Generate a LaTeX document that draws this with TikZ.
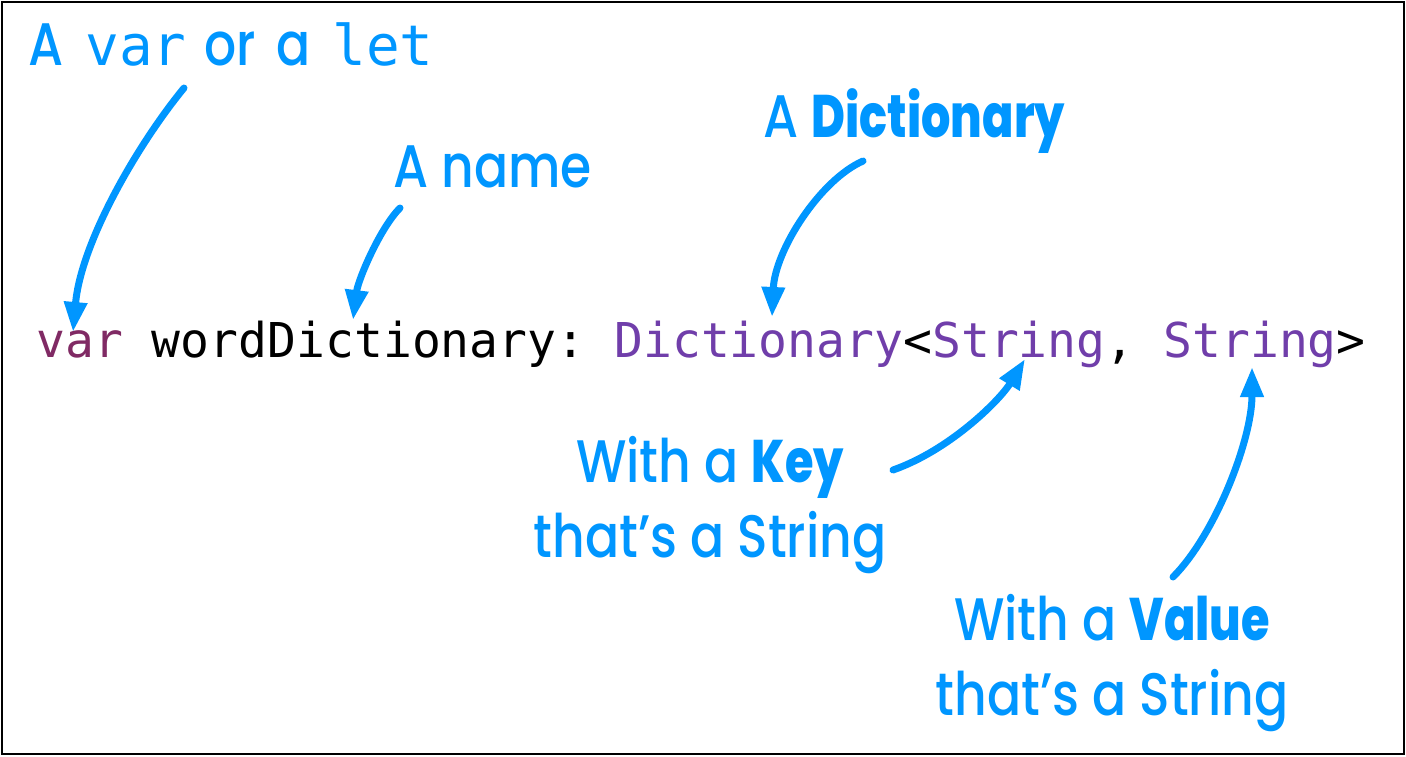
\documentclass[tikz,border=0pt]{standalone}
\usepackage{fontspec}
\usetikzlibrary{arrows.meta}
\setmonofont{DejaVu Sans Mono}
\IfFontExistsTF{Poppins Medium}
  {\newfontfamily\notefont[FakeStretch=0.84]{Poppins Medium}}
  {\newfontfamily\notefont[FakeStretch=0.84,FakeBold=1.2]{Poppins}}
\IfFontExistsTF{Poppins ExtraBold}
  {\newfontfamily\heavyfont[FakeStretch=0.77]{Poppins ExtraBold}}
  {\newfontfamily\heavyfont[FakeStretch=0.77,FakeBold=1.5]{Poppins Bold}}
\definecolor{noteblue}{RGB}{0,150,255}
\definecolor{kwcolor}{RGB}{128,42,100}
\definecolor{typecolor}{RGB}{112,62,170}
\newcommand{\heavy}[1]{{\heavyfont #1}}
\newcommand{\kw}[1]{{\ttfamily\fontsize{28}{34}\selectfont #1}}

\begin{document}
\begin{tikzpicture}[x=0.5pt,y=-0.5pt,
    note/.style={text=noteblue,inner sep=0pt,font=\notefont\fontsize{30}{37.5}\selectfont},
    pointer/.style={draw=noteblue,line width=3.5pt,line cap=round,-{Triangle[length=15pt,width=11pt]}}]
      \useasboundingbox (0,0) rectangle (1406,756);
      \draw[line width=0.8pt] (2,2) rectangle (1404,754);

      % the declaration
      \node[inner sep=0pt,anchor=base west,font=\ttfamily\fontsize{24}{28}\selectfont] (decl) at (36,357)
        {\textcolor{kwcolor}{var} wordDictionary: \textcolor{typecolor}{Dictionary}<\textcolor{typecolor}{String}, \textcolor{typecolor}{String}>};

      % labels
      \node[note,anchor=base west] (varlet) at (28,65)
        {A\hspace{11pt}\kw{var}\hspace{9pt}or\hspace{10pt}a\hspace{11pt}\kw{let}};
      \node[note,anchor=base west] (aname) at (393,187) {A name};
      \node[note,anchor=base west] (adict) at (763,137) {A \heavy{Dictionary}};
      \node[note,anchor=base,align=center] (withkey) at (710,557) {With a \heavy{Key}\\that’s a String};
      \node[note,anchor=base,align=center] (withvalue) at (1112,715) {With a \heavy{Value}\\that’s a String};

      % arrow ends
      \coordinate (varTail) at (184,88);   \coordinate (varTip) at (73,332);
      \coordinate (nameTail) at (400,208); \coordinate (nameTip) at (353,320);
      \coordinate (dictTail) at (863,161); \coordinate (dictTip) at (772,317);
      \coordinate (keyTail) at (893,470);  \coordinate (keyTip) at (1025,359);
      \coordinate (valTail) at (1173,577); \coordinate (valTip) at (1252,367);

      \draw[pointer] (varTail) .. controls (138,144) and (81,242) .. (varTip);
      \draw[pointer] (nameTail) .. controls (380,228) and (358,280) .. (nameTip);
      \draw[pointer] (dictTail) .. controls (820,180) and (775,250) .. (dictTip);
      \draw[pointer] (keyTail) .. controls (950,450) and (1000,400) .. (keyTip);
      \draw[pointer] (valTail) .. controls (1215,535) and (1252,440) .. (valTip);
    \end{tikzpicture}
\end{document}
